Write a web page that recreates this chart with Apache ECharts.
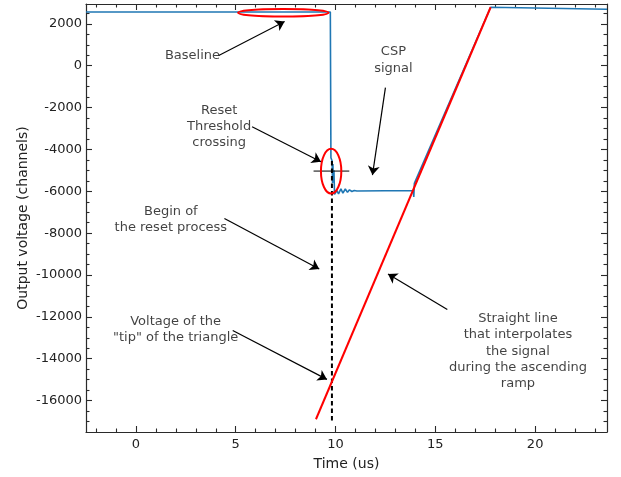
<!DOCTYPE html>
<html>
<head>
<meta charset="utf-8">
<script src="https://cdn.jsdelivr.net/npm/echarts@6/dist/echarts.min.js"></script>
<style>html,body{margin:0;padding:0;background:#fff}#c{width:621px;height:477px}</style>
</head>
<body>
<div id="c"></div>
<script>
// ---- data ----
const xRange = [-2.5, 23.6];
const yRange = [-17500, 2950];
const xMajorTicks = [0, 5, 10, 15, 20];
const xMinorTicks = [-2, -1, 1, 2, 3, 4, 6, 7, 8, 9, 11, 12, 13, 14, 16, 17, 18, 19, 21, 22, 23];
const yMajorTicks = [2000, 0, -2000, -4000, -6000, -8000, -10000, -12000, -14000, -16000];
const yMinorTicks = [2500, 1500, 1000, 500, -500, -1000, -1500, -2500, -3000, -3500, -4500, -5000, -5500,
  -6500, -7000, -7500, -8500, -9000, -9500, -10500, -11000, -11500, -12500, -13000, -13500,
  -14500, -15000, -15500, -16500, -17000];

// CSP signal (blue)
const cspSignal = [
  [-2.5, 2570], [9.74, 2570], [9.77, -4400], [9.83, -4550], [9.85, -5600], [9.87, -4700],
  [9.89, -5500], [9.92, -5000], [9.95, -6150], [9.99, -6140], [10.07, -5960], [10.15, -6120],
  [10.27, -5880], [10.37, -6090], [10.49, -5890], [10.6, -6050], [10.7, -5930], [10.82, -6010],
  [10.94, -5960], [11.07, -5986], [13.9, -5960], [13.92, -6270], [13.95, -5620],
  [17.77, 2795], [23.6, 2700]
];
// interpolating straight line (red)
const rampFit = [[9.02, -16891], [17.77, 2795]];
// begin of reset (dashed)
const resetBegin = [[9.82, -4550], [9.82, -17000]];
// threshold marker
const thresholdMark = [[8.9, -5033], [10.69, -5033]];
// highlight ellipses: [cx, cy, rx, ry]
const ellipses = [[7.385, 2533, 2.27, 181], [9.78, -5038, 0.51, 1071]];
// annotation arrows: [x1, y1, x2, y2]
const arrows = [
  [4.15, 490, 7.45, 2110],
  [12.5, -1048, 11.85, -5224],
  [5.82, -2919, 9.27, -4586],
  [4.435, -7300, 9.185, -9714],
  [4.85, -12652, 9.57, -14986],
  [15.6, -11652, 12.63, -9952]
];
// annotation texts: [x, y, text]
const notes = [
  [2.835, 476, 'Baseline'],
  [12.9, 262, 'CSP\nsignal'],
  [4.17, -2905, 'Reset\nThreshold\ncrossing'],
  [1.75, -7348, 'Begin of\nthe reset process'],
  [1.99, -12620, 'Voltage of the\n"tip" of the triangle'],
  [19.14, -13643, 'Straight line\nthat interpolates\nthe signal\nduring the ascending\nramp']
];

// ---- chart ----
const FONT = 'DejaVu Sans';
const lineCol = '#2a2a2a';
function xAx(pos, major, showLabel) {
  return {
    type: 'value', position: pos, min: xRange[0], max: xRange[1],
    axisLine: { show: major, onZero: false, lineStyle: { color: lineCol, width: 1.2 } },
    axisTick: { show: true, inside: true, length: major ? 6 : 3.5, customValues: major ? xMajorTicks : xMinorTicks,
      lineStyle: { color: lineCol, width: 1.1 } },
    axisLabel: { show: showLabel, customValues: xMajorTicks, formatter: v => String(v),
      fontFamily: FONT, fontSize: 13, color: '#222', margin: 6 },
    splitLine: { show: false },
    name: showLabel ? 'Time (us)' : '', nameLocation: 'middle', nameGap: 25, nameMoveOverlap: false,
    nameTextStyle: { fontFamily: FONT, fontSize: 14, color: '#222' }
  };
}
function yAx(pos, major, showLabel) {
  return {
    type: 'value', position: pos, min: yRange[0], max: yRange[1],
    axisLine: { show: major, onZero: false, lineStyle: { color: lineCol, width: 1.2 } },
    axisTick: { show: true, inside: true, length: major ? 6 : 3.5, customValues: major ? yMajorTicks : yMinorTicks,
      lineStyle: { color: lineCol, width: 1.1 } },
    axisLabel: { show: showLabel, customValues: yMajorTicks, formatter: v => String(v),
      fontFamily: FONT, fontSize: 13, color: '#222', margin: 4 },
    splitLine: { show: false },
    name: showLabel ? 'Output voltage (channels)' : '', nameLocation: 'middle', nameGap: 56, nameMoveOverlap: false,
    nameTextStyle: { fontFamily: FONT, fontSize: 14, color: '#222' }
  };
}

const chart = echarts.init(document.getElementById('c'), null, { renderer: 'canvas' });
chart.setOption({
  animation: false,
  backgroundColor: '#fff',
  grid: { left: 86, right: 14, top: 4, bottom: 45, containLabel: false },
  xAxis: [xAx('bottom', true, true), xAx('bottom', false, false), xAx('top', true, false), xAx('top', false, false)],
  yAxis: [yAx('left', true, true), yAx('left', false, false), yAx('right', true, false), yAx('right', false, false)],
  series: [
    { type: 'line', name: 'CSP', data: cspSignal, showSymbol: false, symbol: 'none',
      lineStyle: { color: '#1f77b4', width: 1.6 }, z: 2 },
    { type: 'line', name: 'dashed', data: resetBegin, showSymbol: false, symbol: 'none',
      lineStyle: { color: '#000', width: 2, type: [4.5, 3] }, z: 3 },
    { type: 'line', name: 'thr', data: thresholdMark, showSymbol: false, symbol: 'none',
      lineStyle: { color: '#000', width: 1 }, z: 3 },
    { type: 'line', name: 'fit', data: rampFit, showSymbol: false, symbol: 'none',
      lineStyle: { color: '#ff0000', width: 2 }, z: 4 },
    { type: 'custom', name: 'ellipses', data: ellipses, z: 5, encode: { x: 0, y: 1 },
      renderItem: function (params, api) {
        const c = api.coord([api.value(0), api.value(1)]);
        const s = api.size([api.value(2), api.value(3)]);
        return { type: 'ellipse', shape: { cx: c[0], cy: c[1], rx: s[0], ry: s[1] },
          style: { fill: 'none', stroke: '#ff0000', lineWidth: 2 } };
      } },
    { type: 'lines', coordinateSystem: 'cartesian2d', z: 6,
      data: arrows.map(a => ({ coords: [[a[0], a[1]], [a[2], a[3]]] })),
      symbol: ['none', 'arrow'], symbolSize: 9,
      lineStyle: { color: '#000', width: 1.2, opacity: 1 } },
    { type: 'scatter', data: notes, symbolSize: 1, itemStyle: { color: 'rgba(0,0,0,0)' }, z: 7,
      label: { show: true, position: 'inside', formatter: p => p.data[2], align: 'center', verticalAlign: 'middle',
        fontFamily: FONT, fontSize: 13, lineHeight: 16.4, color: '#111' } }
  ]
});
</script>
</body>
</html>
